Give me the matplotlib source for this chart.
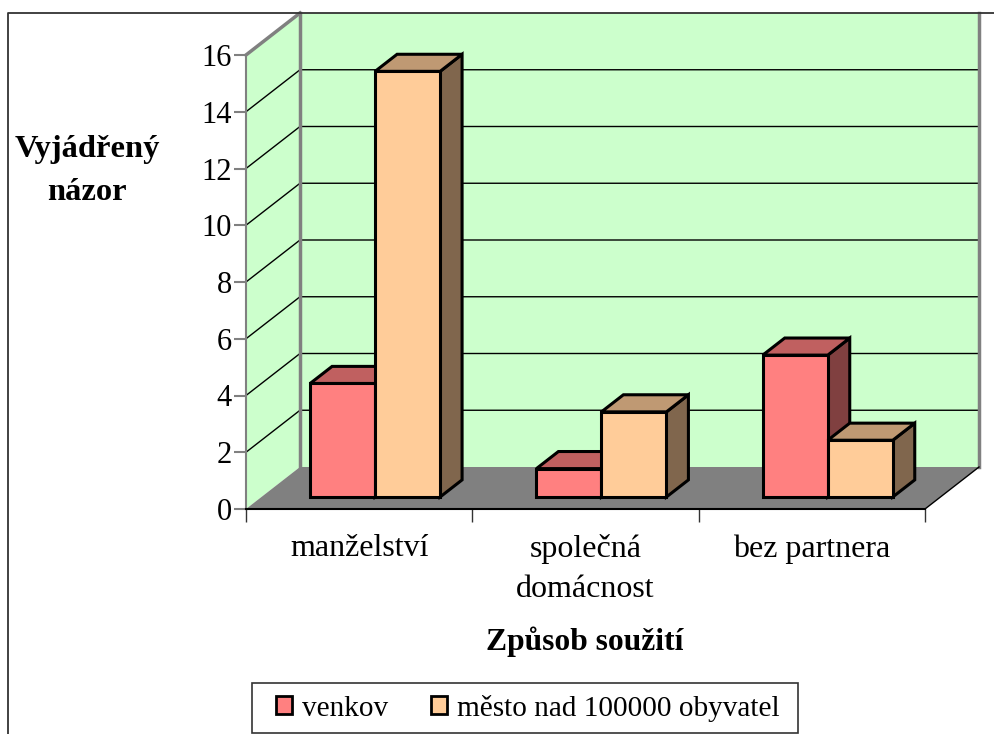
import matplotlib
matplotlib.use("Agg")
import matplotlib.pyplot as plt
from matplotlib.patches import Polygon, Patch, Rectangle
from matplotlib.lines import Line2D

plt.rcParams['font.family'] = ['Liberation Serif', 'DejaVu Serif']

categories = ['manželství', 'společná\ndomácnost', 'bez partnera']
venkov = [4, 1, 5]
mesto = [15, 3, 2]
series_names = ['venkov', 'město nad 100000 obyvatel']
yticks = [0, 2, 4, 6, 8, 10, 12, 14, 16]

W, H = 995, 734
# front plane of the 3d box in pixels
X0, X1, Y0, Y1 = 246, 925, 509, 55
px_x = 3.0 / (X1 - X0)
px_y = 16.0 / (Y0 - Y1)

# oblique offset of the back wall, data units
DX = 54 * px_x
DY = 42 * px_y
# bars sit between these depths
D_FRONT = 0.286
D_BACK = 0.693
BAR_W = 65 * px_x
GROUP_PAD = 0.215

COL_WALL = '#ccffcc'
COL_GREY = '#808080'
COL_A = ('#ff8080', '#c06060', '#804040')
COL_B = ('#ffcc99', '#bf9973', '#80664d')


def proj(x, v, d):
    return (x + d * DX, v + d * DY)


def box(ax, x, val, cols):
    x2 = x + BAR_W
    front = [proj(x, 0, D_FRONT), proj(x2, 0, D_FRONT), proj(x2, val, D_FRONT), proj(x, val, D_FRONT)]
    top = [proj(x, val, D_FRONT), proj(x2, val, D_FRONT), proj(x2, val, D_BACK), proj(x, val, D_BACK)]
    side = [proj(x2, 0, D_FRONT), proj(x2, 0, D_BACK), proj(x2, val, D_BACK), proj(x2, val, D_FRONT)]
    for pts, c in ((side, cols[2]), (top, cols[1]), (front, cols[0])):
        ax.add_patch(Polygon(pts, closed=True, facecolor=c, edgecolor='black', lw=2.2,
                             joinstyle='miter', clip_on=False, zorder=5))


fig = plt.figure(figsize=(W / 100, H / 100), dpi=100)
ax = fig.add_axes([X0 / W, 1 - Y0 / H, (X1 - X0) / W, (Y0 - Y1) / H])
ax.set_xlim(0, 3)
ax.set_ylim(0, 16)
ax.patch.set_visible(False)

# walls and floor
ax.add_patch(Polygon([proj(0, 0, 0), proj(0, 0, 1), proj(0, 16, 1), proj(0, 16, 0)], closed=True,
                     facecolor=COL_WALL, edgecolor='none', clip_on=False, zorder=1))
ax.add_patch(Polygon([proj(0, 0, 1), proj(3, 0, 1), proj(3, 16, 1), proj(0, 16, 1)], closed=True,
                     facecolor=COL_WALL, edgecolor='none', clip_on=False, zorder=1))
ax.add_patch(Polygon([proj(0, 0, 0), proj(3, 0, 0), proj(3, 0, 1), proj(0, 0, 1)], closed=True,
                     facecolor=COL_GREY, edgecolor='none', clip_on=False, zorder=1))

# gridlines
for v in yticks[1:-1]:
    a, b, c = proj(0, v, 0), proj(0, v, 1), proj(3, v, 1)
    ax.plot([a[0], b[0], c[0]], [a[1], b[1], c[1]], color='black', lw=1, clip_on=False, zorder=2)

# grey edges of the walls
a, b, c, d = proj(0, 16, 0), proj(0, 16, 1), proj(0, 0, 1), proj(3, 0, 1)
ax.plot([a[0], b[0]], [a[1], b[1]], color=COL_GREY, lw=2.5, clip_on=False, zorder=3)
ax.plot([b[0], c[0]], [b[1], c[1]], color=COL_GREY, lw=2.5, clip_on=False, zorder=3)
e, f = proj(3, 0, 1), proj(3, 16, 1)
ax.plot([e[0], f[0]], [e[1], f[1]], color=COL_GREY, lw=2.5, clip_on=False, zorder=3)
g = proj(3, 0, 0)
ax.plot([g[0], e[0]], [g[1], e[1]], color='black', lw=1, clip_on=False, zorder=3)

# bars
for i in range(len(categories)):
    box(ax, i + GROUP_PAD, venkov[i], COL_A)
    box(ax, i + GROUP_PAD + BAR_W, mesto[i], COL_B)

for s in ('top', 'right'):
    ax.spines[s].set_visible(False)
ax.spines['left'].set_color(COL_GREY)
ax.spines['left'].set_linewidth(1.5)
ax.spines['bottom'].set_color('black')
ax.spines['bottom'].set_linewidth(1.5)
ax.spines['left'].set_zorder(4)
ax.spines['bottom'].set_zorder(4)

ax.set_yticks(yticks)
ax.tick_params(axis='y', length=9, width=1.5, color=COL_GREY, labelsize=22, pad=1)
ax.set_xticks([0, 1, 2, 3])
ax.set_xticklabels([])
ax.tick_params(axis='x', which='major', length=9, width=1, color='#333333')
ax.set_xticks([0.5, 1.5, 2.5], minor=True)
ax.set_xticklabels(categories, minor=True, fontsize=23, linespacing=1.5, va='top')
ax.tick_params(axis='x', which='minor', length=0, pad=18)

# frame of the chart area, no right or bottom side in the picture
fig.add_artist(Line2D([8 / W, 8 / W, 1], [0, 1 - 13 / H, 1 - 13 / H], color='#333333', lw=1.3))

fig.text(87 / W, 1 - 171 / H, 'Vyjádřený\nnázor', ha='center', va='center', fontsize=23.4,
         fontweight='bold', linespacing=1.6)
fig.text(585 / W, 1 - 642 / H, 'Způsob soužití', ha='center', va='center', fontsize=22.7,
         fontweight='bold')

# legend box drawn apart because it is wider than the legend padding allows
fig.add_artist(Rectangle((252 / W, 1 - 733 / H), 546 / W, 50 / H, transform=fig.transFigure,
                         facecolor='white', edgecolor='#333333', lw=1.2))
handles = [Patch(facecolor=COL_A[0], edgecolor='black', lw=2, label=series_names[0]),
           Patch(facecolor=COL_B[0], edgecolor='black', lw=2, label=series_names[1])]
leg = fig.legend(handles=handles, ncol=2, loc='center', bbox_to_anchor=(528 / W, 1 - 708 / H),
                 fontsize=21.1, frameon=False,
                 handlelength=0.55, handleheight=0.55, handletextpad=0.35, columnspacing=1.45,
                 borderpad=0, borderaxespad=0)

fig.savefig('out.png', dpi=100)
